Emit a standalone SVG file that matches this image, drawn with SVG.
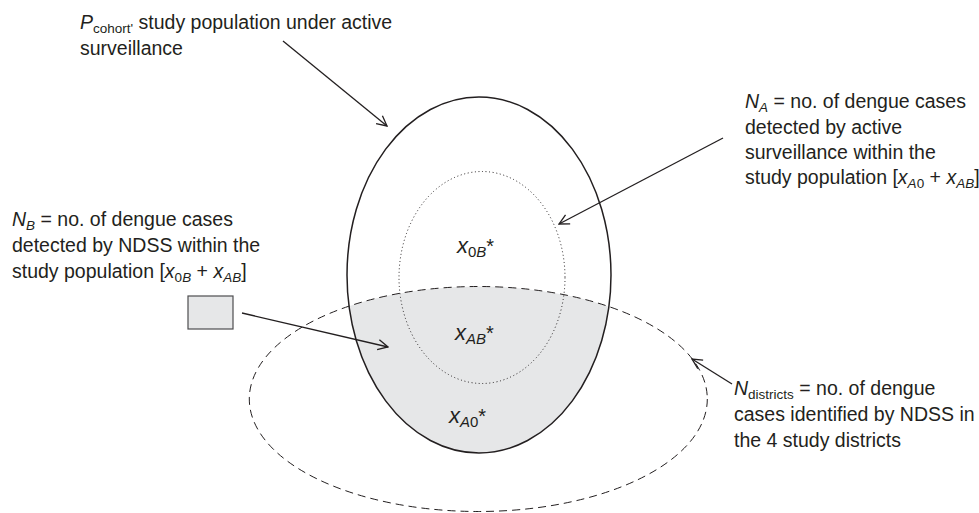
<svg xmlns="http://www.w3.org/2000/svg" width="979" height="513" viewBox="0 0 979 513">
<style>
text{font-family:"Liberation Sans",Arial,sans-serif;fill:#231f20;font-size:19.5px}
.it{font-style:italic}
.sub{font-size:13.5px}
.var{font-size:22px}
.vsub{font-size:15px}
.line{stroke:#231f20;stroke-width:1.3;fill:none}
</style>
<defs>
<marker id="arr" markerWidth="12" markerHeight="12" viewBox="0 0 12 12" refX="11" refY="6" orient="auto" markerUnits="userSpaceOnUse">
<path d="M1,1 L11,6 L1,11" fill="none" stroke="#231f20" stroke-width="1.3"/>
</marker>
<clipPath id="cohortClip"><ellipse cx="479" cy="275" rx="132" ry="178"/></clipPath>
</defs>
<rect width="979" height="513" fill="#ffffff"/>
<g id="overlap-shade">
<ellipse cx="478.3" cy="399" rx="229" ry="112.5" fill="#e6e7e8" clip-path="url(#cohortClip)"/>
</g>
<g id="cohort">
<ellipse cx="479" cy="275" rx="132" ry="178" fill="none" stroke="#231f20" stroke-width="1.5"/>
</g>
<g id="active">
<ellipse cx="482" cy="277.5" rx="83" ry="106" fill="none" stroke="#231f20" stroke-width="1" stroke-dasharray="1 2.6"/>
</g>
<g id="districts">
<ellipse cx="478.3" cy="399" rx="229" ry="112.5" fill="none" stroke="#231f20" stroke-width="1" stroke-dasharray="8 5"/>
</g>
<g id="x0B">
<text x="457" y="253"><tspan class="it var">x</tspan><tspan class="vsub" dy="4">0</tspan><tspan class="vsub it">B</tspan><tspan dy="-4" font-size="20">*</tspan></text>
</g>
<g id="xAB">
<text x="455" y="340"><tspan class="it var">x</tspan><tspan class="vsub it" dy="4">AB</tspan><tspan dy="-4" font-size="20">*</tspan></text>
</g>
<g id="xA0">
<text x="449" y="423"><tspan class="it var">x</tspan><tspan class="vsub it" dy="4">A</tspan><tspan class="vsub">0</tspan><tspan dy="-4" font-size="20">*</tspan></text>
</g>
<g id="label-cohort">
<text x="80" y="29"><tspan class="it">P</tspan><tspan class="sub" dy="4">cohort'</tspan><tspan dy="-4"> study population under active</tspan></text>
<text x="80" y="55">surveillance</text>
</g>
<g id="label-NA">
<text x="745" y="108"><tspan class="it">N</tspan><tspan class="sub it" dy="4">A</tspan><tspan dy="-4"> = no. of dengue cases</tspan></text>
<text x="745" y="133.5">detected by active</text>
<text x="745" y="159">surveillance within the</text>
<text x="745" y="184">study population [<tspan class="it">x</tspan><tspan class="sub it" dy="4">A</tspan><tspan class="sub">0</tspan><tspan dy="-4"> + </tspan><tspan class="it">x</tspan><tspan class="sub it" dy="4">AB</tspan><tspan dy="-4">]</tspan></text>
</g>
<g id="label-NB">
<text x="12" y="226"><tspan class="it">N</tspan><tspan class="sub it" dy="4">B</tspan><tspan dy="-4"> = no. of dengue cases</tspan></text>
<text x="12" y="252">detected by NDSS within the</text>
<text x="12" y="278">study population [<tspan class="it">x</tspan><tspan class="sub" dy="4">0</tspan><tspan class="sub it">B</tspan><tspan dy="-4"> + </tspan><tspan class="it">x</tspan><tspan class="sub it" dy="4">AB</tspan><tspan dy="-4">]</tspan></text>
</g>
<g id="legend-box">
<rect x="188" y="296" width="45" height="33" fill="#e6e7e8" stroke="#4d4d4f" stroke-width="1.2"/>
</g>
<g id="label-Ndistricts">
<text x="734" y="395"><tspan class="it">N</tspan><tspan class="sub" dy="4">districts</tspan><tspan dy="-4"> = no. of dengue</tspan></text>
<text x="734" y="421">cases identified by NDSS in</text>
<text x="734" y="447">the 4 study districts</text>
</g>
<g id="connectors">
<line class="line" x1="283" y1="41" x2="387" y2="126" marker-end="url(#arr)"/>
<line class="line" x1="723" y1="138" x2="559" y2="224" marker-end="url(#arr)"/>
<line class="line" x1="242" y1="313" x2="388" y2="347" marker-end="url(#arr)"/>
<line class="line" x1="732" y1="384" x2="692" y2="359" marker-end="url(#arr)"/>
</g>
</svg>
